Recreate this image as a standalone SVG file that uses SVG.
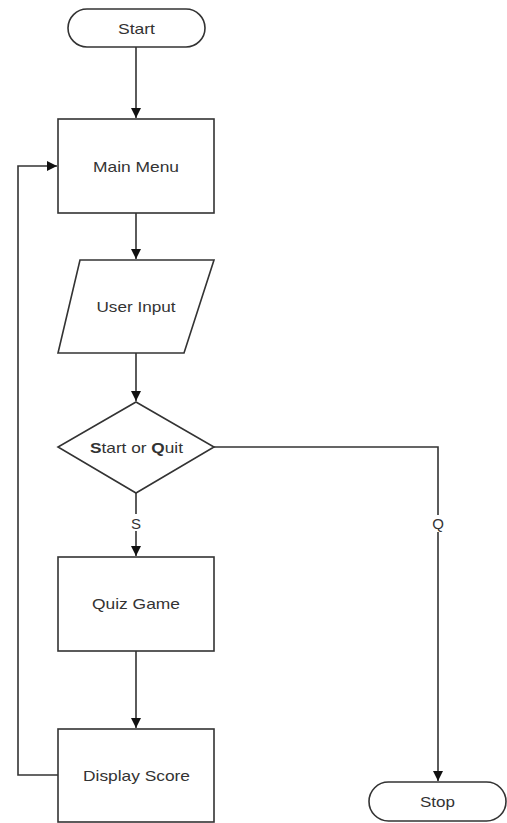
<svg xmlns="http://www.w3.org/2000/svg" width="507" height="823" viewBox="0 0 507 823">
<style>
.shape{fill:#fff;stroke:#333;stroke-width:1.6}
.conn{fill:none;stroke:#333;stroke-width:1.6}
text{font-family:"Liberation Sans",Arial,sans-serif;font-size:15px;fill:#333;text-anchor:middle;dominant-baseline:central}
</style>
<defs>
<marker id="arr" viewBox="0 0 10 10" refX="10" refY="5" markerWidth="10" markerHeight="10" markerUnits="userSpaceOnUse" orient="auto">
<path d="M0,0 L10,5 L0,10 z" fill="#111"/>
</marker>
</defs>
<rect x="0" y="0" width="507" height="823" fill="#fff"/>
<g id="connectors">
<line class="conn" x1="136" y1="47" x2="136" y2="118" marker-end="url(#arr)"/>
<line class="conn" x1="136" y1="213" x2="136" y2="259" marker-end="url(#arr)"/>
<line class="conn" x1="136" y1="353" x2="136" y2="401" marker-end="url(#arr)"/>
<path class="conn" d="M136,493 V514"/>
<path class="conn" d="M136,531 V556" marker-end="url(#arr)"/>
<line class="conn" x1="136" y1="651" x2="136" y2="728" marker-end="url(#arr)"/>
<path class="conn" d="M58,775 H18 V166 H57" marker-end="url(#arr)"/>
<path class="conn" d="M214,447 H438 V515"/>
<path class="conn" d="M438,532 V781" marker-end="url(#arr)"/>
<text x="136" y="523">S</text>
<text x="438" y="523">Q</text>
</g>
<g id="start">
<rect class="shape" x="68" y="9" width="137" height="38" rx="19"/>
<text x="136.5" y="28" textLength="37" lengthAdjust="spacingAndGlyphs">Start</text>
</g>
<g id="main-menu">
<rect class="shape" x="58" y="119" width="156" height="94"/>
<text x="136" y="166" textLength="86" lengthAdjust="spacingAndGlyphs">Main Menu</text>
</g>
<g id="user-input">
<polygon class="shape" points="80,260 214,260 184,353 58,353"/>
<text x="136" y="306" textLength="79" lengthAdjust="spacingAndGlyphs">User Input</text>
</g>
<g id="start-or-quit">
<polygon class="shape" points="136,402 214,447 136,493 58,447"/>
<text x="136.5" y="447" textLength="93" lengthAdjust="spacingAndGlyphs"><tspan font-weight="bold">S</tspan>tart or <tspan font-weight="bold">Q</tspan>uit</text>
</g>
<g id="quiz-game">
<rect class="shape" x="58" y="557" width="156" height="94"/>
<text x="136" y="603" textLength="88" lengthAdjust="spacingAndGlyphs">Quiz Game</text>
</g>
<g id="display-score">
<rect class="shape" x="58" y="729" width="156" height="93"/>
<text x="136.5" y="775" textLength="107" lengthAdjust="spacingAndGlyphs">Display Score</text>
</g>
<g id="stop">
<rect class="shape" x="369" y="782" width="137" height="39" rx="19.5"/>
<text x="437.5" y="801" textLength="35" lengthAdjust="spacingAndGlyphs">Stop</text>
</g>
</svg>
